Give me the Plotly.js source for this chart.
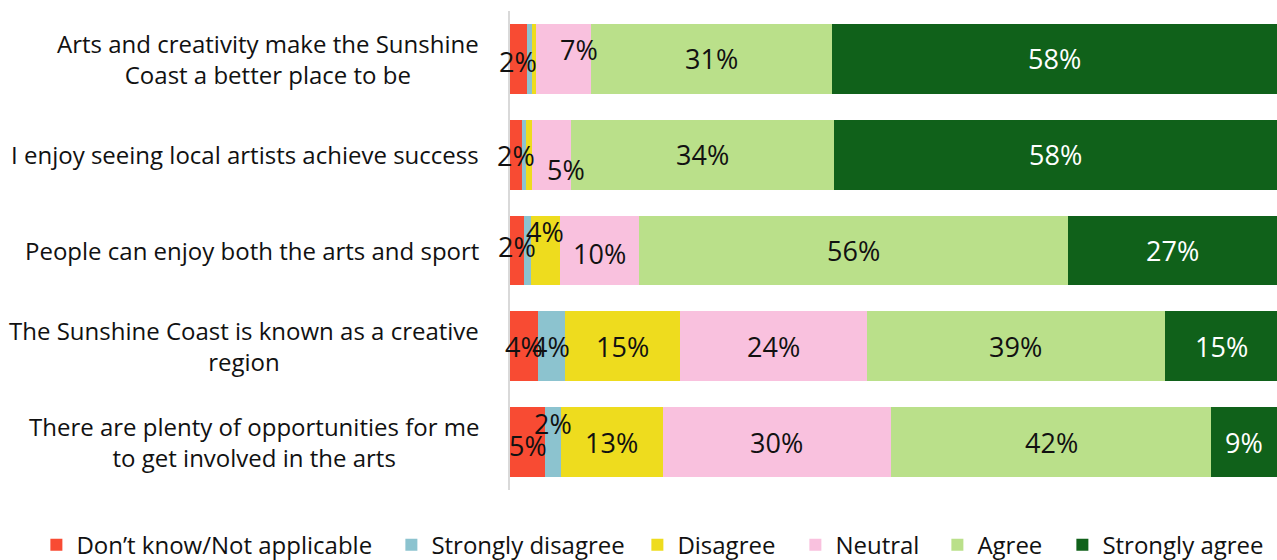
<!DOCTYPE html>
<html>
<head>
<meta charset="utf-8">
<script src="https://cdn.plot.ly/plotly-3.0.1.min.js"></script>
<style>html,body{margin:0;padding:0;background:#fff;}#chart{width:1277px;height:560px;}</style>
</head>
<body>
<div id="chart"></div>
<script>
const categories = [
  "Arts and creativity make the Sunshine<br>Coast a better place to be",
  "I enjoy seeing local artists achieve success",
  "People can enjoy both the arts and sport",
  "The Sunshine Coast is known as a creative<br>region",
  "There are plenty of opportunities for me<br>to get involved in the arts"
];
const seriesNames = ["Don\u2019t know/Not applicable", "Strongly disagree", "Disagree", "Neutral", "Agree", "Strongly agree"];
const dontKnow         = [2.2, 1.6, 1.8, 3.6, 4.6];
const stronglyDisagree = [0.7, 0.5, 0.9, 3.6, 2.0];
const disagree         = [0.5, 0.8, 3.8, 15.0, 13.3];
const neutral          = [7.2, 5.1, 10.3, 24.3, 29.8];
const agree            = [31.4, 34.3, 56.0, 38.9, 41.7];
const stronglyAgree    = [58.0, 57.7, 27.2, 14.6, 8.6];
const seriesValues = [dontKnow, stronglyDisagree, disagree, neutral, agree, stronglyAgree];

const colors = ["#F84B33", "#8CC3CF", "#EEDC1E", "#F9C1DE", "#BAE08A", "#10611A"];
const labelColors = ["#111", "#111", "#111", "#111", "#111", "#ffffff"];
const legendWidths = [310, 201, 113, 97, 80, 170];
// label nudges (px) mimicking the original label placement: key "row,series"
const nudges = {"0,0":[0,3],"0,3":[15,-9],"1,0":[0,1],"1,3":[14,15],"2,0":[0,-4],"2,2":[0,-19],"2,3":[0,3],"4,0":[0,3],"4,1":[0,-19]};
const FONT = "Open Sans, Noto Sans, sans-serif";

const traces = seriesValues.map((vals, j) => ({
  type: "bar", orientation: "h", name: seriesNames[j],
  x: vals, y: categories,
  marker: {color: colors[j], line: {width: 0}},
  hoverinfo: "none",
  legendwidth: legendWidths[j]
}));

const annotations = [];
categories.forEach((cat, i) => {
  let cum = 0;
  seriesValues.forEach((vals, j) => {
    const v = vals[i];
    if (v >= 1.5) {
      const n = nudges[i + "," + j] || [0, 0];
      annotations.push({
        x: cum + v / 2, y: cat, xref: "x", yref: "y",
        text: Math.round(v) + "%", showarrow: false,
        xshift: n[0], yshift: -n[1],
        font: {family: FONT, size: 27, color: labelColors[j]}
      });
    }
    cum += v;
  });
  annotations.push({
    x: 0, y: cat, xref: "paper", yref: "y", xanchor: "right", xshift: -29,
    text: cat, showarrow: false, align: "center",
    font: {family: FONT, size: 24, color: "#111"}
  });
});

const layout = {
  width: 1277, height: 560,
  margin: {l: 510, r: 0, t: 11, b: 70, pad: 0, autoexpand: false},
  barmode: "stack", bargap: 0.27,
  paper_bgcolor: "#fff", plot_bgcolor: "#fff",
  font: {family: FONT, size: 24, color: "#111"},
  xaxis: {range: [0, 100], showgrid: false, zeroline: false, showticklabels: false, showline: false, fixedrange: true},
  yaxis: {autorange: "reversed", showticklabels: false, showgrid: false, zeroline: false,
          showline: true, linecolor: "#d9d9d9", linewidth: 2, ticks: ""},
  showlegend: true,
  legend: {orientation: "h", x: -0.6175, xanchor: "left", y: -0.115, yanchor: "middle",
           font: {family: FONT, size: 24, color: "#111"}, traceorder: "normal", bgcolor: "rgba(0,0,0,0)"},
  annotations: annotations
};

Plotly.newPlot("chart", traces, layout, {displayModeBar: false, staticPlot: true});
</script>
</body>
</html>
